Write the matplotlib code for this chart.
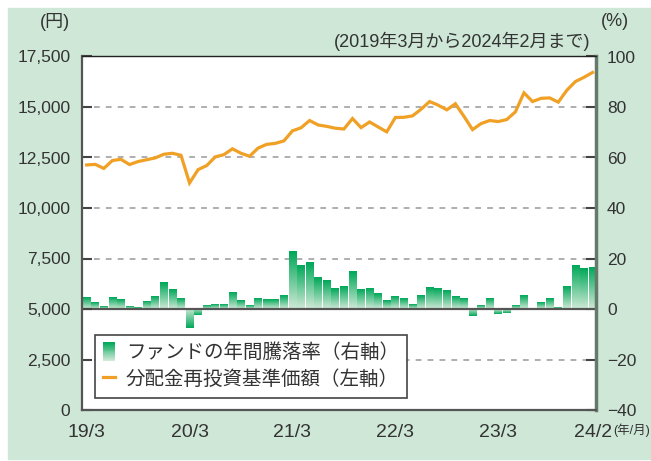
import matplotlib
matplotlib.use("Agg")
import matplotlib.pyplot as plt
import numpy as np
from matplotlib.patches import Rectangle, Patch
from matplotlib.lines import Line2D
from matplotlib.colors import LinearSegmentedColormap
from matplotlib.legend_handler import HandlerBase

plt.rcParams['font.family'] = ['Liberation Sans', 'Noto Sans CJK JP', 'DejaVu Sans']

# monthly data, 2019/3 .. 2024/2
nav = [12130, 12160, 11960, 12350, 12410, 12150, 12300, 12390, 12480, 12660,
       12710, 12610, 11240, 11900, 12100, 12530, 12640, 12930, 12710, 12560,
       12970, 13150, 13200, 13320, 13820, 13970, 14330, 14110, 14040, 13950,
       13910, 14430, 13980, 14260, 14010, 13770, 14480, 14490, 14560, 14890,
       15270, 15090, 14860, 15160, 14540, 13880, 14180, 14330, 14280, 14380,
       14760, 15700, 15270, 15430, 15450, 15240, 15830, 16260, 16470, 16710]
rates = [4.7, 2.5, 0.9, 4.7, 3.7, 0.9, 0.5, 2.9, 4.9, 10.5,
         7.7, 4.1, -7.7, -2.5, 1.3, 1.7, 1.7, 6.5, 3.3, 1.3,
         4.1, 3.7, 3.7, 5.3, 22.9, 17.3, 18.5, 12.5, 11.3, 8.1,
         8.9, 14.9, 7.7, 8.1, 6.1, 3.3, 4.9, 4.1, 1.7, 5.3,
         8.5, 8.1, 7.3, 4.9, 4.1, -2.9, 1.3, 4.1, -1.9, -1.5,
         1.3, 5.3, 0.2, 2.5, 4.1, 0.5, 8.9, 17.3, 16.1, 16.5]
xtick_pos = [0, 12, 24, 36, 48, 59]
xtick_labels = ['19/3', '20/3', '21/3', '22/3', '23/3', '24/2']
left_ticks = [0, 2500, 5000, 7500, 10000, 12500, 15000, 17500]
right_ticks = [-40, -20, 0, 20, 40, 60, 80, 100]

bg = '#cee7d6'
txt = '#333333'
orange = '#f0a024'
cmap = LinearSegmentedColormap.from_list('g', ['#cfe9d6', '#00a859'])

fig = plt.figure(figsize=(6.51, 4.61), dpi=100)
fig.patch.set_facecolor('white')
fig.add_artist(Rectangle((8 / 651, 0.004), 1, 1 - 8 / 461 - 0.004,
                         transform=fig.transFigure, color=bg, zorder=0))

ax = fig.add_axes([81.5 / 651, 51 / 461, 514.5 / 651, 353.5 / 461])
ax2 = ax.twinx()
ax.set_zorder(ax2.get_zorder() + 1)
ax.patch.set_visible(False)
ax2.patch.set_visible(True)
ax2.patch.set_facecolor('white')

x = np.arange(len(nav))

# bars with vertical gradient (right axis)
bars = ax2.bar(x, rates, width=0.9, color='none', edgecolor='none', zorder=2)
grad = np.linspace(1, 0, 64).reshape(-1, 1)
for b in bars:
    x0 = b.get_x()
    ax2.imshow(grad, cmap=cmap, aspect='auto', interpolation='bilinear',
               extent=[x0, x0 + b.get_width(), 0, b.get_height()], zorder=2)

for v in [-20, 20, 40, 60, 80]:
    ax2.axhline(v, color='#a8a8a8', lw=1.3, dashes=(3.2, 3.4), zorder=1)
ax2.axhline(0, color='#555555', lw=1.6, zorder=3)

ax.plot(x, nav, color=orange, lw=2.3, solid_joinstyle='miter', zorder=5)

ax.set_xlim(-0.6, 59.4)
ax2.set_xlim(-0.6, 59.4)
ax.set_ylim(0, 17500)
ax2.set_ylim(-40, 100)

ax.set_yticks(left_ticks)
ax.set_yticklabels([f'{v:,}' for v in left_ticks])
ax2.set_yticks(right_ticks)
ax2.set_yticklabels([str(v).replace('-', '\u2212') for v in right_ticks])
ax.set_xticks(xtick_pos)
ax.set_xticklabels(xtick_labels)

ax.tick_params(axis='y', direction='in', length=7, width=1.5, color='#444444',
               labelsize=12.5, labelcolor=txt, pad=8)
ax2.tick_params(axis='y', direction='in', length=7, width=1.5, color='#444444',
                labelsize=12.5, labelcolor=txt, pad=8)
ax.tick_params(axis='x', length=0, labelsize=14, labelcolor=txt, pad=10)

for s in ax2.spines.values():
    s.set_visible(False)
ax.spines['left'].set_color('#555555')
ax.spines['left'].set_linewidth(1.6)
ax.spines['bottom'].set_color('#555555')
ax.spines['bottom'].set_linewidth(1.6)
ax.spines['right'].set_color('#667a6c')
ax.spines['right'].set_linewidth(2.5)
ax.spines['top'].set_color('#222222')
ax.spines['top'].set_linewidth(1.0)


class GradientHandler(HandlerBase):
    def create_artists(self, legend, orig_handle, xdescent, ydescent,
                       width, height, fontsize, trans):
        n = 20
        arts = []
        for k in range(n):
            r = Rectangle((-xdescent, -ydescent + height * (n - 1 - k) / n),
                          width, height / n + 0.2, facecolor=cmap(1 - k / (n - 1)),
                          edgecolor='none', transform=trans)
            arts.append(r)
        return arts


h_bar = Patch(label='ファンドの年間騰落率（右軸）')
h_line = Line2D([], [], color=orange, lw=2.3, label='分配金再投資基準価額（左軸）')
leg = ax.legend(handles=[h_bar, h_line], loc='lower left',
                bbox_to_anchor=(0.026, 0.034), borderaxespad=0,
                handler_map={Patch: GradientHandler()},
                prop={'family': ['Noto Sans CJK JP'], 'size': 14},
                handlelength=0.65, handleheight=1.1, handletextpad=0.55,
                labelspacing=0.3, borderpad=0.4, fancybox=False,
                framealpha=1, edgecolor='#444444', facecolor='white')
leg.get_frame().set_linewidth(1.2)
for t in leg.get_texts():
    t.set_color(txt)

fig.text(55 / 651, 1 - 22 / 461, '(円)', ha='center', va='center',
         fontsize=13, color=txt)
fig.text(615 / 651, 1 - 22 / 461, '(%)', ha='center', va='center',
         fontsize=13, color=txt)
fig.text(590 / 651, 1 - 41 / 461, '(2019年3月から2024年2月まで)', ha='right',
         va='center', fontsize=13, color=txt)
fig.text(632 / 651, 1 - 430 / 461, '(年/月)', ha='center', va='center',
         fontsize=9, color=txt)

fig.savefig('out.png', dpi=100, facecolor=fig.get_facecolor())
